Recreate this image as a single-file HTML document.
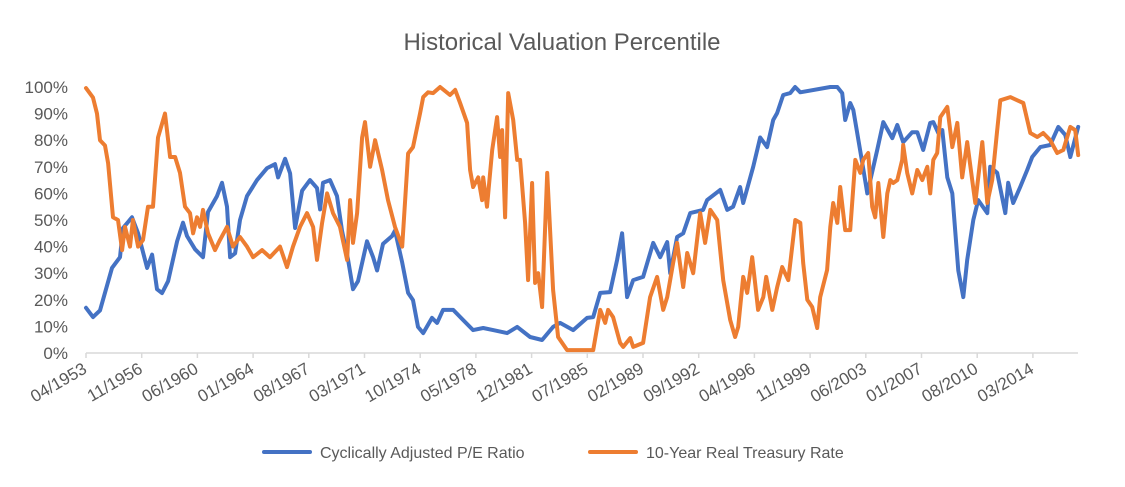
<!DOCTYPE html>
<html><head><meta charset="utf-8"><style>
html,body{margin:0;padding:0;background:#fff;}
svg{display:block;font-family:"Liberation Sans",sans-serif;}
</style></head><body>
<svg id="chart" width="1125" height="487">
<text x="562" y="50" text-anchor="middle" font-size="24" fill="#595959">Historical Valuation Percentile</text>
<g id="yaxis"></g>
<g id="xaxis"></g>
<g id="series"></g>
<g>
<line x1="264" y1="452" x2="310" y2="452" stroke="#4472C4" stroke-width="4" stroke-linecap="round"/>
<text x="320" y="458" font-size="16" fill="#595959">Cyclically Adjusted P/E Ratio</text>
<line x1="590" y1="452" x2="636" y2="452" stroke="#ED7D31" stroke-width="4" stroke-linecap="round"/>
<text x="646" y="458" font-size="16" fill="#595959">10-Year Real Treasury Rate</text>
</g>
</svg>
<script>
const yTicks=[0,10,20,30,40,50,60,70,80,90,100];
const xTickLabels=["04/1953","11/1956","06/1960","01/1964","08/1967","03/1971","10/1974","05/1978","12/1981","07/1985","02/1989","09/1992","04/1996","11/1999","06/2003","01/2007","08/2010","03/2014"];
const capeYears=[1953.25,1953.70,1954.15,1954.92,1955.44,1955.63,1956.21,1956.60,1957.18,1957.50,1957.82,1958.14,1958.53,1959.11,1959.49,1959.75,1960.27,1960.78,1961.10,1961.68,1962.00,1962.32,1962.52,1962.84,1963.16,1963.61,1964.25,1964.90,1965.41,1965.61,1966.06,1966.38,1966.70,1967.15,1967.66,1968.11,1968.31,1968.50,1968.95,1969.40,1969.72,1970.11,1970.43,1970.75,1971.33,1971.72,1971.98,1972.36,1972.94,1973.13,1973.59,1973.97,1974.29,1974.61,1974.94,1975.51,1975.84,1976.22,1976.87,1977.51,1978.15,1978.80,1979.44,1980.34,1980.99,1981.82,1982.59,1983.30,1983.75,1984.59,1985.49,1985.88,1986.33,1986.97,1987.42,1987.74,1988.06,1988.45,1989.09,1989.74,1990.19,1990.64,1990.83,1991.28,1991.67,1992.12,1992.95,1993.21,1994.05,1994.50,1994.88,1995.33,1995.53,1996.17,1996.62,1997.07,1997.46,1997.71,1998.10,1998.55,1998.87,1999.20,2001.13,2001.58,2001.90,2002.09,2002.41,2002.61,2003.19,2003.51,2004.15,2004.54,2005.12,2005.44,2005.82,2006.40,2006.73,2007.11,2007.56,2007.76,2008.08,2008.34,2008.66,2008.98,2009.37,2009.69,2009.94,2010.33,2010.65,2011.23,2011.42,2011.87,2012.39,2012.58,2012.90,2013.35,2013.80,2014.12,2014.64,2015.28,2015.80,2016.25,2016.57,2017.08];
const capeValues=[17,13.5,16,32,36,47,51,45,32,37,24,22.5,27,42,49,44,39,36,53,59,64,55,36,37.5,50,59,65,69.5,71,66,73,67.5,47,61,65,62,54,64,65,59,46,35,24,27,42,36,31,41,44,46,34,22.6,19.9,9.8,7.5,13.2,11.3,16.2,16.2,12.4,8.6,9.4,8.6,7.5,9.8,6,4.9,9.8,11.3,8.6,13.2,13.5,22.6,22.9,35,45,21,27.4,28.6,41.4,36,41.7,30,43.6,45,52.6,53.8,57.5,61.3,53.8,55,62.4,56.4,70,81,77.4,87.6,90.2,97,97.7,100,98,100,100,97.7,87.6,94,91.4,71.4,60,76.3,86.8,80.8,85.7,79.3,83,83,76.3,86.5,86.8,82.7,83.8,66,60,31,21,35,50,57.5,52.6,70,67.7,52.6,64,56.4,62.4,68.8,73.7,77.4,78.2,85,82,73.7,85,88.3];
const rateYears=[1953.25,1953.70,1953.96,1954.15,1954.47,1954.67,1954.99,1955.31,1955.57,1955.76,1956.08,1956.27,1956.60,1956.92,1957.24,1957.56,1957.88,1958.33,1958.66,1958.98,1959.30,1959.62,1959.94,1960.14,1960.39,1960.59,1960.78,1961.10,1961.55,1961.87,1962.32,1962.71,1963.16,1963.61,1964.00,1964.58,1965.09,1965.73,1966.18,1966.57,1967.02,1967.47,1967.86,1968.11,1968.44,1968.76,1969.14,1969.59,1970.05,1970.24,1970.43,1970.69,1971.01,1971.20,1971.53,1971.85,1972.30,1972.68,1973.13,1973.59,1973.97,1974.29,1974.74,1974.94,1975.26,1975.58,1976.03,1976.67,1977.00,1977.32,1977.77,1977.96,1978.15,1978.48,1978.73,1978.80,1979.05,1979.38,1979.70,1979.89,1980.02,1980.21,1980.41,1980.73,1980.99,1981.18,1981.50,1981.69,1981.95,1982.14,1982.34,1982.59,1982.92,1983.30,1983.62,1984.20,1985.88,1986.33,1986.65,1986.84,1987.16,1987.61,1987.81,1988.26,1988.45,1989.09,1989.54,1989.99,1990.38,1990.64,1991.02,1991.28,1991.67,1991.93,1992.31,1992.76,1993.08,1993.41,1993.86,1994.24,1994.69,1995.01,1995.21,1995.53,1995.79,1996.11,1996.49,1996.82,1997.01,1997.40,1997.72,1998.04,1998.43,1998.88,1999.20,1999.39,1999.65,1999.97,2000.29,2000.48,2000.93,2001.13,2001.32,2001.58,2001.77,2002.09,2002.41,2002.74,2003.06,2003.25,2003.57,2003.83,2004.02,2004.22,2004.54,2004.80,2004.99,2005.18,2005.44,2005.76,2005.82,2006.08,2006.40,2006.73,2007.05,2007.37,2007.56,2007.76,2008.01,2008.21,2008.66,2008.98,2009.30,2009.62,2009.94,2010.26,2010.46,2010.91,2011.23,2011.55,2011.87,2012.07,2012.71,2013.16,2013.55,2014.00,2014.45,2014.83,2015.28,2015.73,2016.12,2016.57,2016.89,2017.08];
const rateValues=[99.6,96,90,80,78,71.4,51,50,38.7,47.4,40,50,40,42.5,55,55,81,90,73.7,73.7,67.7,55,52.6,45,51,47.4,53.8,45,38.7,42.5,47.4,40,43.6,40,36,38.7,36,40,32.3,40,47.4,52.6,47.4,35,48.9,60,52.6,47.4,35,57.5,41.4,52.6,81,86.8,70,80,68.8,57.5,47.4,40,75,77.4,90,96.2,98,97.7,100,97,98.9,94,86.5,68.8,62.4,66,57.5,66,55,76.3,88.7,73.7,83.8,51,97.7,87.6,72.6,72.6,48.9,27.4,63.9,26.3,30,17.3,67.7,23.7,6,1.1,1.1,16.2,11.3,16.2,13.5,3.8,2.3,5.6,2.3,3.8,21,28.6,16.2,21,33.8,41.4,24.8,37.6,30,52.6,41.4,53.8,50,27.4,12.4,6,9.8,28.6,22.6,36,16.2,21,28.6,16.2,24.8,32.3,27.4,50,48.9,33.8,20,17.3,9.4,21,31.2,47.4,56.4,48.9,62.4,46.2,46.2,72.6,67.7,72.6,75.2,55,51,63.9,43.6,60,65,63.9,65,72.6,78.2,67.7,60,68.8,65,70,60,72.6,75.2,88.7,92.5,77.4,86.5,66,79.3,65,56.4,79.3,56.4,65,83.8,95,96.2,95,94,82.7,81.2,82.7,80,75.2,76.3,85,83.8,74.4];

const NS="http://www.w3.org/2000/svg";
const X0=86,X1=1078,Y0=353,Y1=87,startYear=1953.25,monthsPerTick=43,pxPerTick=55.7;
const pxPerYear=pxPerTick*12/monthsPerTick;
function xs(yr){return X0+(yr-startYear)*pxPerYear;}
function ys(v){return Y0-(v/100)*(Y0-Y1);}
function mk(tag,attrs,parent){const e=document.createElementNS(NS,tag);for(const k in attrs)e.setAttribute(k,attrs[k]);parent.appendChild(e);return e;}

const ya=document.getElementById('yaxis');
yTicks.forEach(v=>{
  const t=mk('text',{x:68,y:ys(v)+6,'text-anchor':'end','font-size':17,fill:'#595959'},ya);
  
  
  t.textContent=v+'%';
});
const xa=document.getElementById('xaxis');
const axl=mk('line',{x1:X0,y1:Y0,x2:X1,y2:Y0,stroke:'#d9d9d9','stroke-width':1.5},xa);


xTickLabels.forEach((lab,i)=>{
  const x=X0+i*pxPerTick;
  const tk=mk('line',{x1:x,y1:Y0,x2:x,y2:Y0+5,stroke:'#d9d9d9','stroke-width':1.5},xa);
  
  
  const t=mk('text',{x:x+2,y:Y0+19,'text-anchor':'end','font-size':17,fill:'#595959',transform:`rotate(-30 ${x+2} ${Y0+19})`},xa);
  
  
  t.textContent=lab;
});
const sg=document.getElementById('series');
function line(years,vals,color,name){
  const d=years.map((y,i)=>(i?'L':'M')+xs(y).toFixed(1)+' '+ys(vals[i]).toFixed(1)).join(' ');
  const p=mk('path',{d:d,fill:'none',stroke:color,'stroke-width':4,'stroke-linejoin':'round','stroke-linecap':'round'},sg);
  
  
}
line(capeYears,capeValues,'#4472C4','cape-line');
line(rateYears,rateValues,'#ED7D31','treasury-rate-line');
</script>
</body></html>
